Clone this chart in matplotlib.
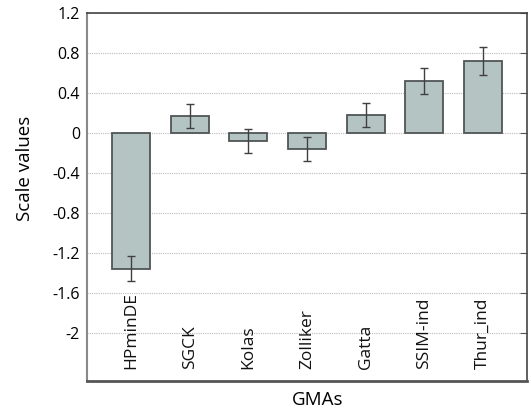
import matplotlib
matplotlib.use("Agg")
import matplotlib.pyplot as plt
import numpy as np

plt.rcParams['font.family'] = ['Open Sans', 'DejaVu Sans']

methods = ['HPminDE', 'SGCK', 'Kolas', 'Zolliker', 'Gatta', 'SSIM-ind', 'Thur_ind']
scale_values = [-1.355, 0.17, -0.083, -0.163, 0.18, 0.515, 0.715]
errors = [0.12, 0.12, 0.12, 0.12, 0.123, 0.13, 0.14]
yticks = [1.2, 0.8, 0.4, 0, -0.4, -0.8, -1.2, -1.6, -2]
ytick_labels = ['1.2', '0.8', '0.4', '0', '-0.4', '-0.8', '-1.2', '-1.6', '-2']

W, H = 531, 416
fig = plt.figure(figsize=(W / 100, H / 100), dpi=100)
ax = fig.add_axes([87 / W, 1 - 381 / H, 440 / W, 368 / H])

x = np.arange(len(methods))
ax.bar(x, scale_values, width=0.65, color='#b4c4c3', edgecolor='#505555',
       linewidth=1.3, zorder=2)
ax.errorbar(x, scale_values, yerr=errors, fmt='none', ecolor='#404040',
            elinewidth=1.0, capsize=3, capthick=1.0, zorder=3)

ax.set_xlim(-0.75, len(methods) - 0.25)
ax.set_ylim(-2.48, 1.2)
ax.set_yticks(yticks)
ax.set_yticklabels(ytick_labels, fontsize=11.5)
ax.tick_params(axis='y', left=False, right=True, direction='in', length=5,
               color='#555555', pad=5)
ax.tick_params(axis='x', bottom=False, labelbottom=False)
ax.grid(axis='y', linestyle=(0, (1, 1)), color='#bbbbbb', linewidth=0.8, zorder=0)

for s in ['top', 'right']:
    ax.spines[s].set_color('#444444')
    ax.spines[s].set_linewidth(1.2)
ax.spines['left'].set_color('#888888')
ax.spines['left'].set_linewidth(1.5)
ax.spines['bottom'].set_color('#555555')
ax.spines['bottom'].set_linewidth(2.0)

for xi, name in zip(x, methods):
    ax.text(xi, -2.36, name, rotation=90, ha='center', va='bottom',
            fontsize=12.5, color='#111111')

fig.text(25 / W, 1 - 168 / H, 'Scale values', rotation=90, ha='center',
         va='center', fontsize=13.5)
fig.text(318 / W, 1 - 400 / H, 'GMAs', ha='center', va='center', fontsize=13.5)

fig.savefig('out.png', dpi=100)
